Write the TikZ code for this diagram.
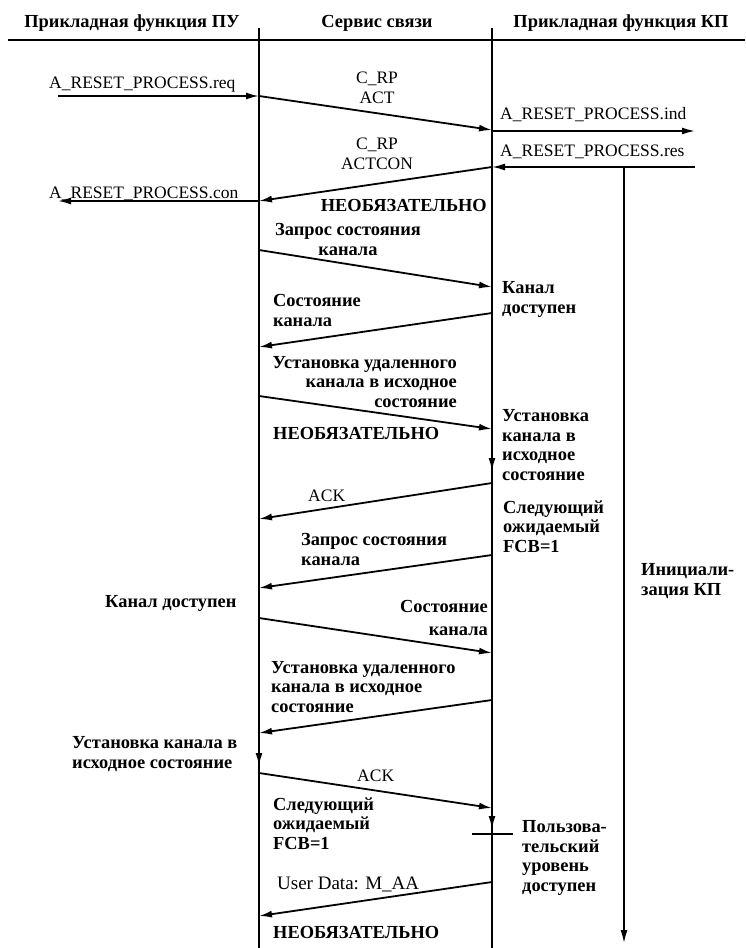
\documentclass[tikz,border=0pt]{standalone}
\usepackage{fontspec}
\setmainfont{Liberation Serif}
\usetikzlibrary{arrows.meta}
\begin{document}
\begin{tikzpicture}[x=1pt,y=-1pt,
  txt/.style={inner sep=0pt, anchor=base west, align=left, font=\fontsize{18.4}{19.5}\selectfont\bfseries},
  lat/.style={txt, font=\fontsize{17.5}{20}\selectfont},
  hdr/.style={inner sep=0pt, anchor=base, font=\fontsize{18.4}{19}\selectfont\bfseries},
  life/.style={line width=1.5pt},
  tip/.style={-{Latex[length=13pt,width=7pt]}},
  msg/.style={line width=1.8pt, tip},
  ]
\useasboundingbox (0,0) rectangle (745,948);
% headers
\node[hdr] (h1) at (132,27) {Прикладная функция ПУ};
\node[hdr] (h2) at (377,27) {Сервис связи};
\node[hdr] (h3) at (621,27) {Прикладная функция КП};
\coordinate (hl0) at (8,40);
\coordinate (hl1) at (745,40);
\draw[line width=2.2pt] (hl0) -- (hl1);
% lifelines
\coordinate (a0) at (259,28); \coordinate (a1) at (259,948);
\coordinate (b0) at (492,28); \coordinate (b1) at (492,948);
\coordinate (c0) at (624,167); \coordinate (c1) at (624,943);
\draw[life] (a0) -- (a1);
\draw[life] (b0) -- (b1);
\draw[life, tip] (c0) -- (c1);
% message points
\coordinate (r0) at (58,96);   \coordinate (a96) at (259,96);
\coordinate (b130) at (492,130);
\coordinate (b131) at (492,131); \coordinate (r1) at (695,131);
\coordinate (r2) at (695,167); \coordinate (b167) at (492,167);
\coordinate (a201) at (259,201); \coordinate (r3) at (58,201);
\coordinate (a250) at (259,250); \coordinate (b287) at (492,287);
\coordinate (b313) at (492,313); \coordinate (a347) at (259,347);
\coordinate (a396) at (259,396); \coordinate (b429) at (492,429);
\coordinate (b440) at (492,440); \coordinate (b470) at (492,471);
\coordinate (b483) at (492,483); \coordinate (a519) at (259,519);
\coordinate (b555) at (492,555); \coordinate (a588) at (259,588);
\coordinate (a618) at (259,618); \coordinate (b653) at (492,653);
\coordinate (b700) at (492,700); \coordinate (a733) at (259,733);
\coordinate (a740) at (259,740); \coordinate (a765) at (259,766);
\coordinate (a773) at (259,773); \coordinate (b808) at (492,808);
\coordinate (b810) at (492,810); \coordinate (b828) at (492,829);
\coordinate (t0) at (472,834); \coordinate (t1) at (513,834);
\coordinate (b882) at (492,882); \coordinate (a916) at (259,916);
% messages
\draw[msg] (r0) -- (a96);
\draw[msg] (a96) -- (b130);
\draw[msg] (b131) -- (r1);
\draw[msg] (r2) -- (b167);
\draw[msg] (b167) -- (a201);
\draw[msg] (a201) -- (r3);
\draw[msg] (a250) -- (b287);
\draw[msg] (b313) -- (a347);
\draw[msg] (a396) -- (b429);
\draw[msg] (b440) -- (b470);
\draw[msg] (b483) -- (a519);
\draw[msg] (b555) -- (a588);
\draw[msg] (a618) -- (b653);
\draw[msg] (b700) -- (a733);
\draw[msg] (a740) -- (a765);
\draw[msg] (a773) -- (b808);
\draw[msg] (b810) -- (b828);
\draw[line width=1.8pt] (t0) -- (t1);
\draw[msg] (b882) -- (a916);
% labels (multi-line nodes: anchor on the last line's baseline)
\node[lat] (l1) at (49,88) {A\_RESET\_PROCESS.req};
\node[lat, anchor=base, align=center] (l2) at (377,103) {C\_RP\\ACT};
\node[lat] (l3) at (500,119) {A\_RESET\_PROCESS.ind};
\node[lat, anchor=base, align=center] (l4) at (377,169) {C\_RP\\ACTCON};
\node[lat] (l5) at (500,156) {A\_RESET\_PROCESS.res};
\node[lat] (l6) at (49,198) {A\_RESET\_PROCESS.con};
\node[txt, anchor=base east] (l7) at (487,211) {НЕОБЯЗАТЕЛЬНО};
\node[txt, anchor=base, align=center] (l8) at (348,255) {Запрос состояния\\канала};
\node[txt] (l9) at (502,313) {Канал\\доступен};
\node[txt] (l10) at (273,326) {Состояние\\канала};
\node[txt, anchor=base east, align=right] (l11) at (457,407) {Установка удаленного\\канала в исходное\\состояние};
\node[txt] (l12) at (273,439) {НЕОБЯЗАТЕЛЬНО};
\node[txt] (l13) at (502,480) {Установка\\канала в\\исходное\\состояние};
\node[lat] (l14) at (308,501) {ACK};
\node[txt] (l15) at (503,552) {Следующий\\ожидаемый\\FCB=1};
\node[txt] (l16) at (301,565) {Запрос состояния\\канала};
\node[txt] (l17) at (641,595) {Инициали-\\зация КП};
\node[txt] (l18) at (105,607) {Канал доступен};
\node[txt, anchor=base east, align=right] (l19) at (488,635) {Состояние\\[3pt]канала};
\node[txt] (l20) at (271,712) {Установка удаленного\\канала в исходное\\состояние};
\node[txt] (l21) at (72,768) {Установка канала в\\исходное состояние};
\node[lat] (l22) at (357,781) {ACK};
\node[txt] (l23) at (273,849) {Следующий\\ожидаемый\\FCB=1};
\node[txt] (l24) at (522,891) {Пользова-\\тельский\\уровень\\доступен};
\node[lat, font=\fontsize{19}{20}\selectfont] (l25) at (277,889) {User Data: M\_AA};
\node[txt] (l26) at (273,938) {НЕОБЯЗАТЕЛЬНО};
\end{tikzpicture}
\end{document}
